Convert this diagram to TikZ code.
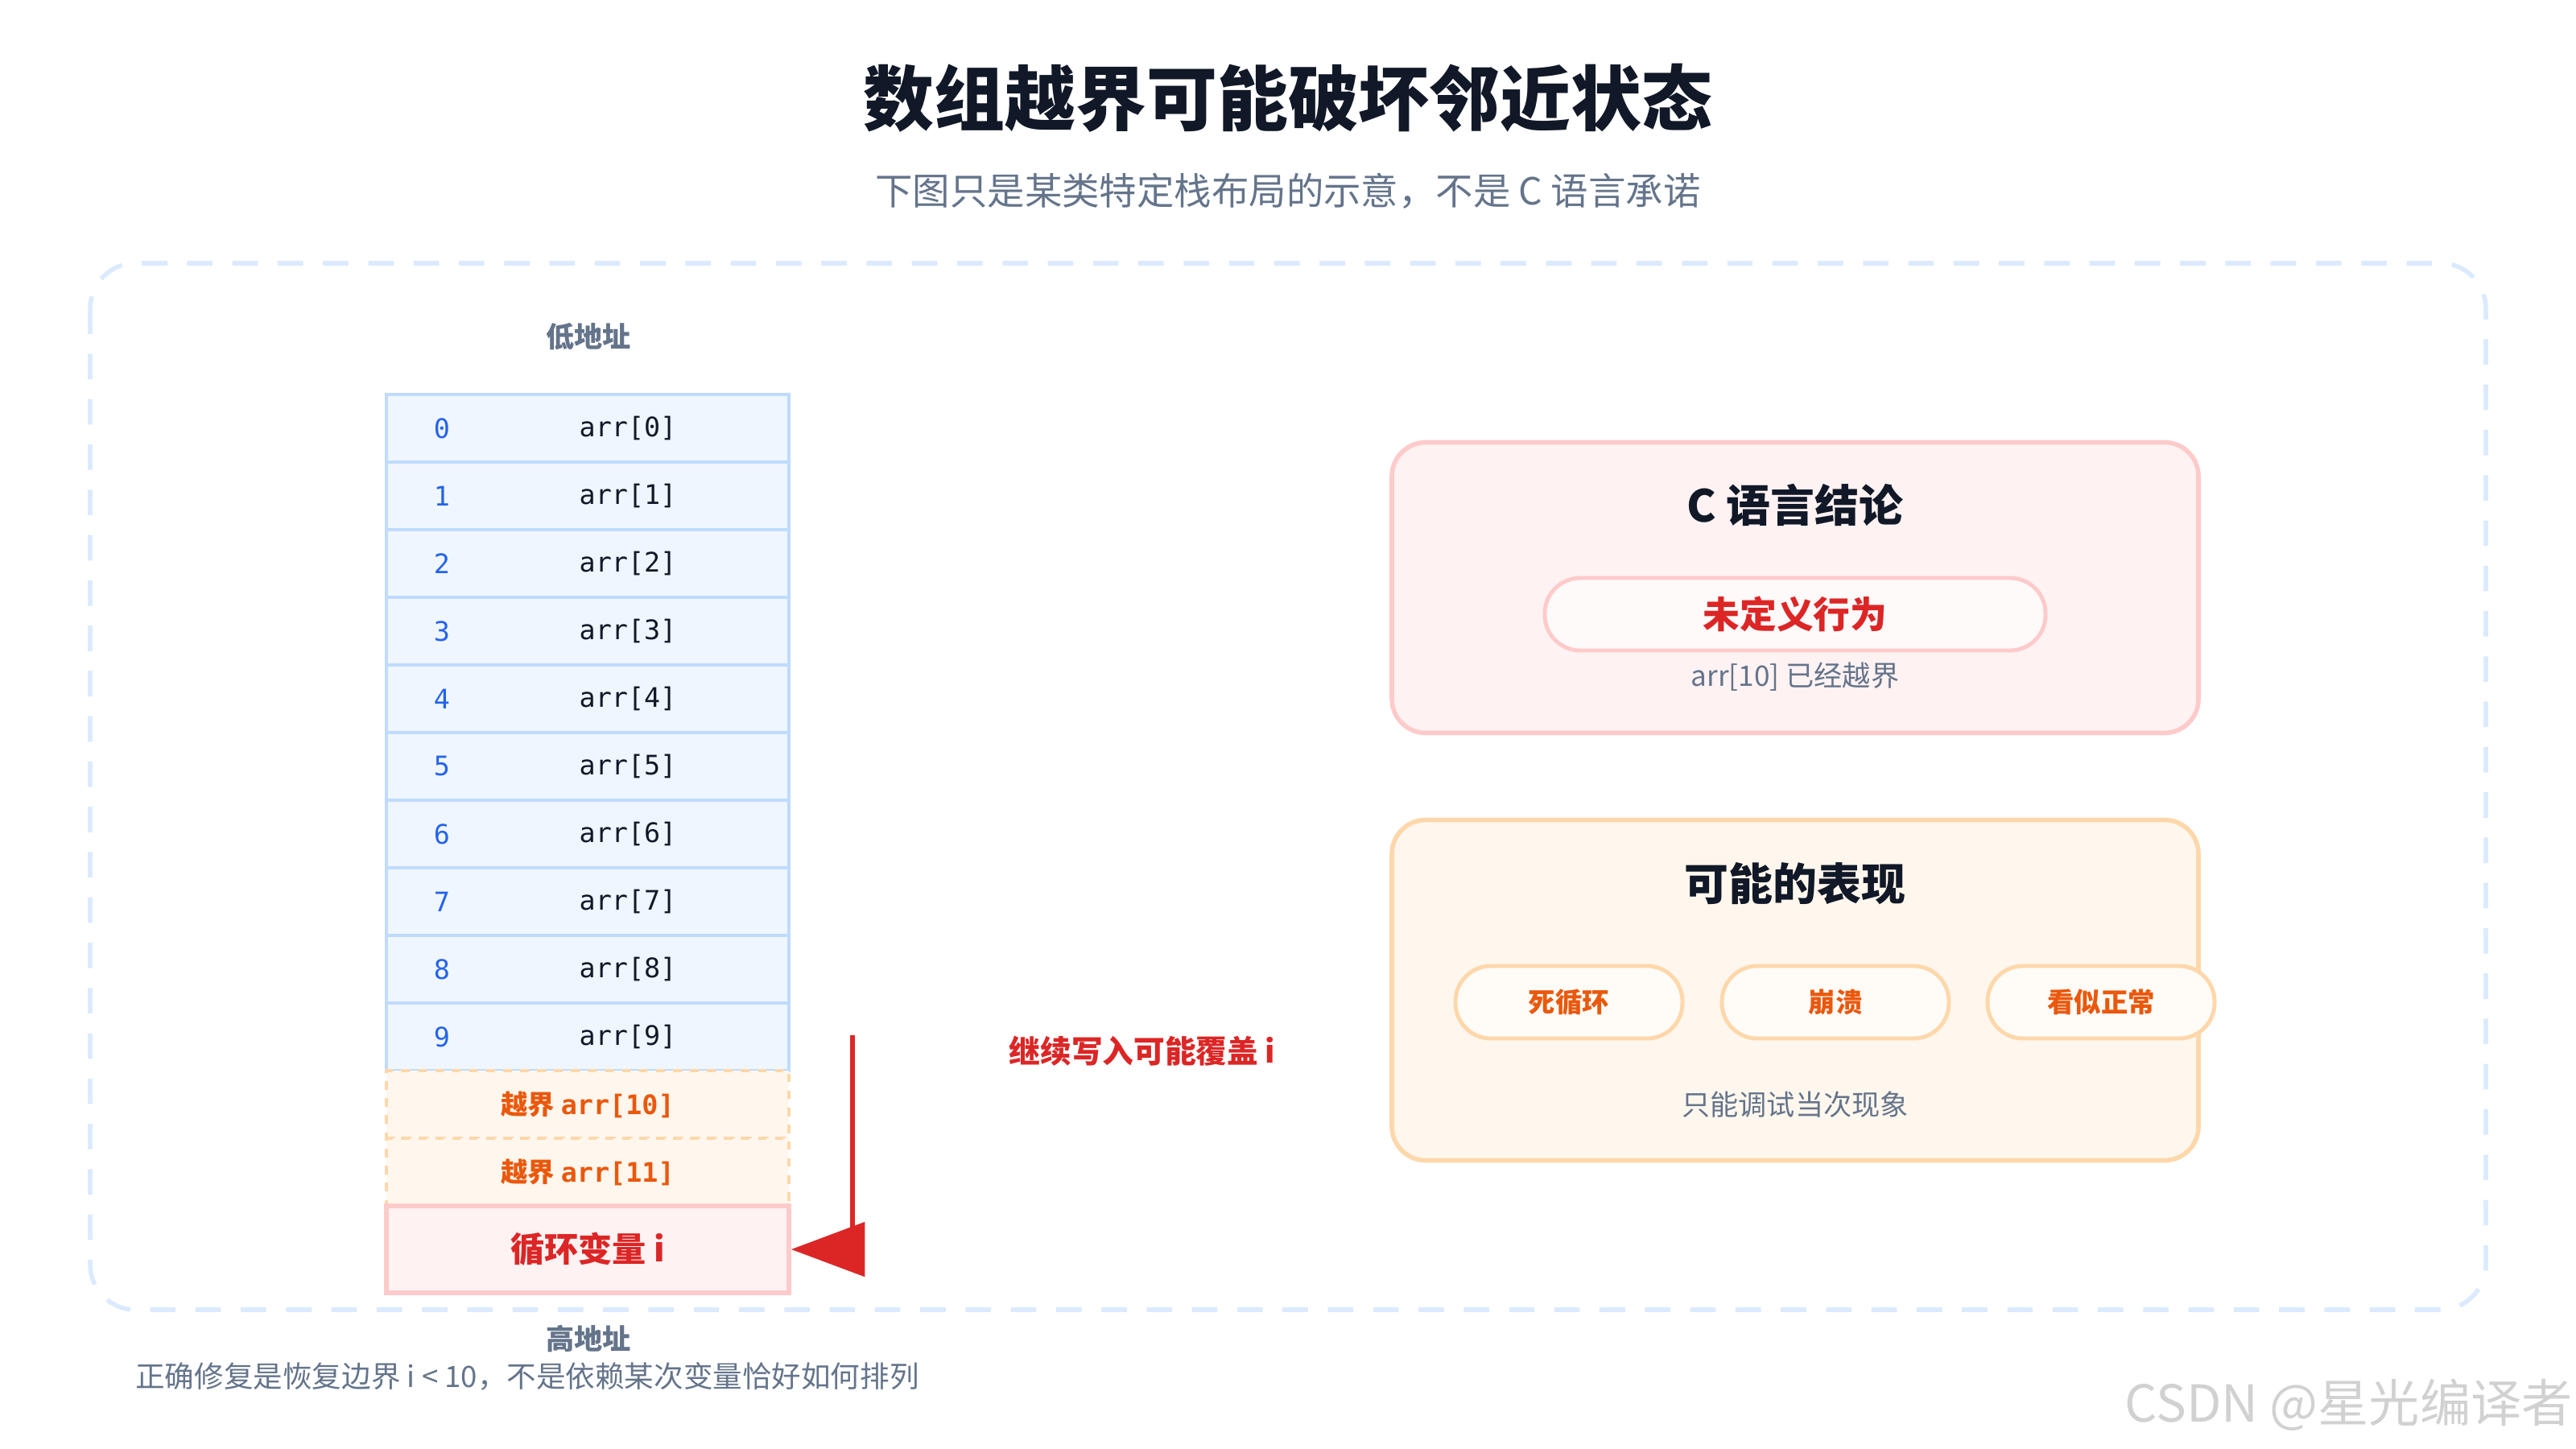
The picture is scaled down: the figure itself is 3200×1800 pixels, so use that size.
\documentclass[tikz,border=0pt]{standalone}
\usepackage{fontspec}
\setmainfont{Noto Sans CJK SC}
\newfontfamily\cellmono{DejaVu Sans Mono}
\usetikzlibrary{positioning}
\usetikzlibrary{arrows.meta}

\definecolor{ink}{HTML}{111827}
\definecolor{muted}{HTML}{64748B}
\definecolor{blueline}{HTML}{BFDBFE}
\definecolor{bluefill}{HTML}{EFF6FF}
\definecolor{bluetext}{HTML}{2563EB}
\definecolor{orline}{HTML}{FED7AA}
\definecolor{orfill}{HTML}{FFF7ED}
\definecolor{ortext}{HTML}{EA580C}
\definecolor{redline}{HTML}{FECACA}
\definecolor{redfill}{HTML}{FEF2F2}
\definecolor{redtext}{HTML}{DC2626}
\definecolor{frameline}{HTML}{DBEAFE}

\begin{document}
\begin{tikzpicture}[%
  x=0.01cm, y=-0.01cm,
  cell/.style={draw=blueline, fill=bluefill, line width=1.2pt,
    minimum width=500*0.01cm, minimum height=84*0.01cm, inner sep=0pt},
  oob/.style={draw=orline, fill=orfill, line width=1.2pt, dashed,
    minimum width=500*0.01cm, minimum height=84*0.01cm, inner sep=0pt,
    font=\fontsize{9.5}{11}\selectfont\bfseries, text=ortext},
  panel/.style={draw=#1line, fill=#1fill, line width=1.6pt,
    rounded corners=12pt, minimum width=1002*0.01cm, inner sep=0pt},
  pill/.style={draw=#1line, fill=white!60!#1fill, line width=1.4pt,
    rounded corners=12.5pt, minimum height=90*0.01cm, inner sep=0pt},
  note/.style={text=muted, font=\fontsize{10}{12}\selectfont},
]
  \useasboundingbox (0,0) rectangle (3200,1800);

  % heading
  \node[text=ink, font=\fontsize{25}{30}\selectfont\bfseries] (title) at (1600,122) {数组越界可能破坏邻近状态};
  \node[note, font=\fontsize{13.2}{16}\selectfont] (subtitle) at (1600,237) {下图只是某类特定栈布局的示意，不是 C 语言承诺};

  \draw[frameline, line width=1.6pt, dash pattern=on 9pt off 7pt, rounded corners=16pt]
    (112,327) rectangle (3088,1627);

  % memory column
  \node[note, font=\fontsize{10}{12}\selectfont\bfseries] (low) at (731,418) {低地址};
  \foreach \i in {0,...,9} {
    \node[cell] (row\i) at (730,{532+84*\i}) {};
    \node[text=bluetext, font=\fontsize{9.5}{11}\selectfont\cellmono] at (549,{532+84*\i}) {\i};
    \node[text=ink, font=\fontsize{9.5}{11}\selectfont\cellmono] at (780,{532+84*\i}) {arr[\i]};
  }
  \node[oob] (over10) at (730,1372) {越界 {\cellmono arr[10]}};
  \node[oob] (over11) at (730,1456) {越界 {\cellmono arr[11]}};
  \node[draw=redline, fill=redfill, line width=1.6pt, minimum width=500*0.01cm,
    minimum height=108*0.01cm, text=redtext,
    font=\fontsize{12}{14}\selectfont\bfseries] (loopvar) at (730,1552) {循环变量 i};
  \node[note, font=\fontsize{10}{12}\selectfont\bfseries] (high) at (731,1663) {高地址};
  \node[note, anchor=west, font=\fontsize{10.4}{12}\selectfont] (fix) at (156,1710) {正确修复是恢复边界 i < 10，不是依赖某次变量恰好如何排列};

  % overwrite arrow
  \coordinate (wtop) at (1059,1286);
  \draw[redtext, line width=1.6pt, -{Triangle[length=26pt, width=19pt]}]
    (wtop) |- (loopvar.east);
  \node[text=redtext, font=\fontsize{11}{13}\selectfont\bfseries] (wlabel) at (1419,1306) {继续写入可能覆盖 i};

  % C language verdict
  \node[panel=red, minimum height=361*0.01cm] (verdict) at (2230,730) {};
  \node[text=ink, font=\fontsize{15.6}{19}\selectfont\bfseries] (vtitle) at (2230,627) {C 语言结论};
  \node[pill=red, minimum width=622*0.01cm, text=redtext,
    font=\fontsize{13}{16}\selectfont\bfseries] (ub) at (2230,763) {未定义行为};
  \node[note] (vnote) at (2230,841) {arr[10] 已经越界};

  % possible symptoms
  \node[panel=or, minimum height=423*0.01cm] (symptoms) at (2230,1230) {};
  \node[text=ink, font=\fontsize{15.6}{19}\selectfont\bfseries] (stitle) at (2230,1098) {可能的表现};
  \foreach \x/\name/\txt in {1949/hang/死循环, 2280/crash/崩溃, 2610/fine/看似正常}
    \node[pill=or, minimum width=282*0.01cm, text=ortext,
      font=\fontsize{9.5}{11}\selectfont\bfseries] (\name) at (\x,1245) {\txt};
  \node[note] (snote) at (2230,1372) {只能调试当次现象};

  \node[text=black!18, font=\fontsize{18}{21}\selectfont] (mark) at (2918,1745) {CSDN @星光编译者};
\end{tikzpicture}
\end{document}
